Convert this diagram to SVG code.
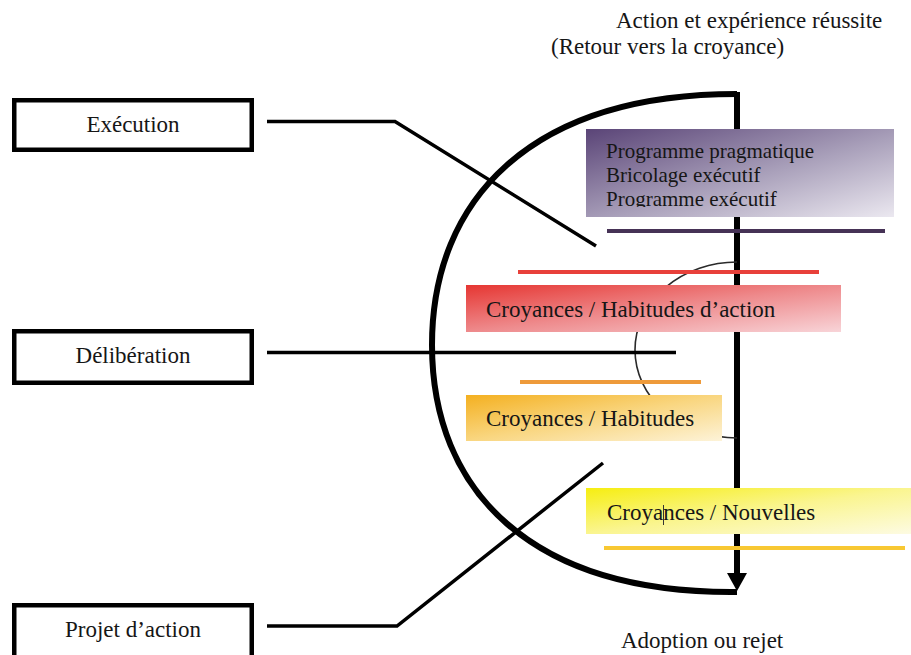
<svg xmlns="http://www.w3.org/2000/svg" width="911" height="655" viewBox="0 0 911 655">
  <style>
    .t { font-family: "Liberation Serif", "Times New Roman", serif; font-size: 23px; fill: #161616; }
    .ts { font-family: "Liberation Serif", "Times New Roman", serif; font-size: 21px; fill: #161616; }
    .node { fill: #ffffff; stroke: #000000; stroke-width: 4.5; }
    .conn { fill: none; stroke: #000000; stroke-width: 3.5; stroke-linejoin: miter; }
    .big { fill: none; stroke: #000000; stroke-width: 6; }
    .bar { stroke-width: 4; fill: none; }
  </style>
  <defs>
    <linearGradient id="gPurple" x1="0" y1="0" x2="1" y2="1">
      <stop offset="0" stop-color="#5a4477"/>
      <stop offset="0.55" stop-color="#aaa1bb"/>
      <stop offset="1" stop-color="#ebe8f0"/>
    </linearGradient>
    <linearGradient id="gRed" x1="0" y1="0" x2="1" y2="1">
      <stop offset="0" stop-color="#e63632"/>
      <stop offset="0.5" stop-color="#ee8a8c"/>
      <stop offset="1" stop-color="#f8d4d8"/>
    </linearGradient>
    <linearGradient id="gOrange" x1="0" y1="0" x2="1" y2="1">
      <stop offset="0" stop-color="#f4b020"/>
      <stop offset="0.5" stop-color="#f9d680"/>
      <stop offset="1" stop-color="#fdf3d8"/>
    </linearGradient>
    <linearGradient id="gYellow" x1="0" y1="0" x2="1" y2="1">
      <stop offset="0" stop-color="#f6ee10"/>
      <stop offset="0.5" stop-color="#faf590"/>
      <stop offset="1" stop-color="#fdfbe2"/>
    </linearGradient>
    <marker id="arrow" markerUnits="userSpaceOnUse" viewBox="0 0 18 20" markerWidth="18" markerHeight="20" refX="0" refY="10" orient="auto">
      <path d="M0,0 L18,10 L0,20 Z" fill="#000000"/>
    </marker>
    <clipPath id="clipProg">
      <rect x="586" y="129" width="308" height="78"/>
    </clipPath>
  </defs>

  <g id="cycle">
    <path class="big" d="M737,94 C530,94 432,200 432,345 C432,490 530,594 737,592"/>
    <line x1="737" y1="92" x2="737" y2="573" stroke="#000000" stroke-width="6" marker-end="url(#arrow)"/>
    <path d="M737,262 A102,88 0 0 0 635,350 A102,88 0 0 0 737,438" fill="none" stroke="#2a2a2a" stroke-width="1.6"/>
  </g>

  <g id="bars">
    <line class="bar" x1="607" y1="231" x2="885" y2="231" stroke="#463256"/>
    <line class="bar" x1="518" y1="272" x2="819" y2="272" stroke="#e8403a"/>
    <line class="bar" x1="520" y1="382" x2="701" y2="382" stroke="#ee9a3a"/>
    <line class="bar" x1="604" y1="548" x2="905" y2="548" stroke="#f8c832"/>
  </g>

  <g id="connectors">
    <polyline class="conn" points="267,121.5 395,121.5 596,246"/>
    <polyline class="conn" points="267,352.5 676,352.5"/>
    <polyline class="conn" points="267,626 397,626 603,463"/>
  </g>

  <g id="execution">
    <rect class="node" x="14.25" y="100.25" width="237.5" height="49.5"/>
    <text class="t" x="133" y="132" text-anchor="middle">Exécution</text>
  </g>
  <g id="deliberation">
    <rect class="node" x="14.25" y="331.25" width="237.5" height="51.5"/>
    <text class="t" x="133" y="363" text-anchor="middle">Délibération</text>
  </g>
  <g id="projet-action">
    <rect class="node" x="14.25" y="605.25" width="237.5" height="60"/>
    <text class="t" x="133" y="637" text-anchor="middle">Projet d’action</text>
  </g>

  <g id="top-label">
    <text class="t" x="616" y="28">Action et expérience réussite</text>
    <text class="t" x="551" y="54">(Retour vers la croyance)</text>
  </g>
  <g id="bottom-label">
    <text class="t" x="621" y="648">Adoption ou rejet</text>
  </g>

  <g id="programme">
    <rect x="586" y="129" width="308" height="88" fill="url(#gPurple)"/>
    <g clip-path="url(#clipProg)">
      <text class="ts" x="606" y="158">Programme pragmatique</text>
      <text class="ts" x="606" y="182">Bricolage exécutif</text>
      <text class="ts" x="606" y="206">Programme exécutif</text>
    </g>
  </g>

  <g id="habitudes-action">
    <rect x="466" y="285" width="375" height="47" fill="url(#gRed)"/>
    <text class="t" x="486" y="317">Croyances / Habitudes d’action</text>
  </g>

  <g id="habitudes">
    <rect x="466" y="395" width="256" height="46" fill="url(#gOrange)"/>
    <text class="t" x="486" y="426">Croyances / Habitudes</text>
  </g>

  <g id="nouvelles">
    <rect x="586" y="488" width="325" height="46" fill="url(#gYellow)"/>
    <text class="t" x="607" y="520">Croyances / Nouvelles</text>
    <line x1="663.5" y1="505" x2="663.5" y2="525" stroke="#333333" stroke-width="1"/>
  </g>
</svg>
